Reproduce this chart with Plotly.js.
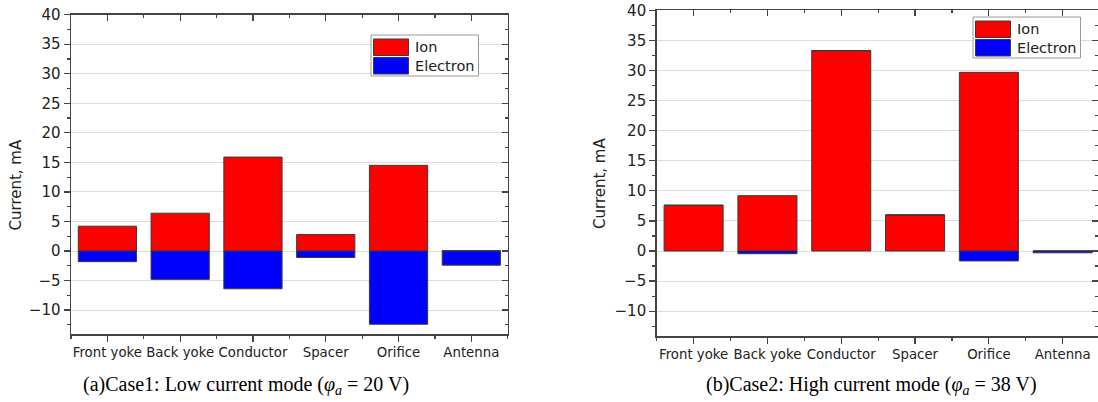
<!DOCTYPE html>
<html>
<head>
<meta charset="utf-8">
<script src="https://cdn.plot.ly/plotly-3.0.1.min.js"></script>
<style>
  html, body { margin: 0; padding: 0; background: #ffffff; }
  #chart { width: 1098px; height: 402px; }
</style>
</head>
<body>
<div id="chart"></div>
<script>
// ---------- data ----------
const categories = ['Front yoke', 'Back yoke', 'Conductor', 'Spacer', 'Orifice', 'Antenna'];
const seriesNames = ['Ion', 'Electron'];
const ionCase1 = [4.2, 6.4, 15.9, 2.8, 14.5, 0.05];
const electronCase1 = [-1.8, -4.8, -6.4, -1.1, -12.4, -2.4];
const ionCase2 = [7.6, 9.2, 33.3, 6.0, 29.7, 0.0];
const electronCase2 = [0.0, -0.45, 0.0, 0.0, -1.65, -0.3];
const yTickVals = [-10, -5, 0, 5, 10, 15, 20, 25, 30, 35, 40];
const yTickText = ['\u221210', '\u22125', '0', '5', '10', '15', '20', '25', '30', '35', '40'];
const yAxisLabel = 'Current, mA';
const captions = [
  '(a)Case1: Low current mode (<i>\u03c6</i><sub><i>a</i></sub> = 20 V)',
  '(b)Case2: High current mode (<i>\u03c6</i><sub><i>a</i></sub> = 38 V)'
];

// ---------- styling ----------
const W = 1098, H = 402;
const px = x => x / W;
const py = y => 1 - y / H;
const colors = ['#ff0000', '#0000ff'];
const barLine = { color: '#3a3a3a', width: 1 };
const axisColor = '#444444';
const tickFontFamily = 'DejaVu Sans, Arial, sans-serif';
const idx = categories.map((c, i) => i);

function barTrace(vals, k, xa, ya) {
  return {
    type: 'bar', x: idx, y: vals, name: seriesNames[k],
    marker: { color: colors[k], line: barLine },
    width: 0.8, xaxis: xa, yaxis: ya, showlegend: false,
    hovertemplate: '%{y}<extra>' + seriesNames[k] + '</extra>'
  };
}
// empty helper traces so that the mirrored frame axes (top / right) are drawn
function frameTrace(xa, ya) {
  return { type: 'scatter', mode: 'markers', x: [null], y: [null], xaxis: xa, yaxis: ya,
           showlegend: false, hoverinfo: 'skip', marker: { opacity: 0 } };
}

const traces = [
  barTrace(ionCase1, 0, 'x', 'y'),
  barTrace(electronCase1, 1, 'x', 'y'),
  barTrace(ionCase2, 0, 'x2', 'y2'),
  barTrace(electronCase2, 1, 'x2', 'y2'),
  frameTrace('x3', 'y3'),
  frameTrace('x4', 'y4')
];

function xAxisBottom(domain, anchor, range) {
  return {
    domain: domain, anchor: anchor, range: range,
    tickmode: 'array', tickvals: idx, ticktext: categories,
    ticks: 'outside', ticklen: 6, tickwidth: 1.2, tickcolor: axisColor,
    minor: { tick0: 0.5, dtick: 1, ticks: 'outside', ticklen: 3, tickwidth: 1.2, tickcolor: axisColor, showgrid: false },
    showline: true, linecolor: axisColor, linewidth: 1.5,
    showgrid: false, zeroline: false,
    tickfont: { family: tickFontFamily, size: 13.3, color: '#222' },
    fixedrange: true
  };
}
function xAxisTop(overlay, anchor, range) {
  return {
    overlaying: overlay, anchor: anchor, side: 'top', range: range,
    tickmode: 'array', tickvals: idx, showticklabels: false,
    ticks: 'inside', ticklen: 6, tickwidth: 1.2, tickcolor: axisColor,
    minor: { tick0: 0.5, dtick: 1, ticks: 'inside', ticklen: 3, tickwidth: 1.2, tickcolor: axisColor, showgrid: false },
    showline: true, linecolor: axisColor, linewidth: 1.5,
    showgrid: false, zeroline: false, fixedrange: true
  };
}
function yAxisLeft(domain, anchor, range) {
  return {
    domain: domain, anchor: anchor, range: range,
    tickmode: 'array', tickvals: yTickVals, ticktext: yTickText,
    ticks: 'outside', ticklen: 6, tickwidth: 1.2, tickcolor: axisColor,
    minor: { tick0: 2.5, dtick: 5, ticks: 'outside', ticklen: 3, tickwidth: 1.2, tickcolor: axisColor, showgrid: false },
    showline: true, linecolor: axisColor, linewidth: 1.5,
    showgrid: true, gridcolor: '#dcdcdc', gridwidth: 1, zeroline: false,
    tickfont: { family: tickFontFamily, size: 15, color: '#222' },
    fixedrange: true
  };
}
function yAxisRight(overlay, anchor, range) {
  return {
    overlaying: overlay, anchor: anchor, side: 'right', range: range,
    tickmode: 'array', tickvals: yTickVals, showticklabels: false,
    ticks: 'inside', ticklen: 6, tickwidth: 1.2, tickcolor: axisColor,
    minor: { tick0: 2.5, dtick: 5, ticks: 'inside', ticklen: 3, tickwidth: 1.2, tickcolor: axisColor, showgrid: false },
    showline: true, linecolor: axisColor, linewidth: 1.5,
    showgrid: false, zeroline: false, fixedrange: true
  };
}

const xr1 = [-0.5, 5.5], yr1 = [-14.05, 40];
const xr2 = [-0.5, 5.478], yr2 = [-14.13, 40];

// legend (drawn in paper space, built from series names/colors)
function legendItems(x0, y0) {
  const shapes = [
    { type: 'rect', xref: 'paper', yref: 'paper', x0: px(x0), x1: px(x0 + 107.5), y0: py(y0), y1: py(y0 + 41),
      line: { color: '#9a9a9a', width: 1 }, fillcolor: '#ffffff', layer: 'above' }
  ];
  const anns = [];
  seriesNames.forEach((n, k) => {
    const top = y0 + 4 + k * 18.5;
    shapes.push({ type: 'rect', xref: 'paper', yref: 'paper', x0: px(x0 + 2.5), x1: px(x0 + 37.5), y0: py(top), y1: py(top + 16.5),
      line: { color: '#3a3a3a', width: 1 }, fillcolor: colors[k], layer: 'above' });
    anns.push({ xref: 'paper', yref: 'paper', x: px(x0 + 42), y: py(top + 8.5), xanchor: 'left', yanchor: 'middle',
      text: n, showarrow: false, font: { family: tickFontFamily, size: 14.5, color: '#222' } });
  });
  return { shapes, anns };
}
const lg1 = legendItems(371, 35);
const lg2 = legendItems(973, 17);

const annotations = [
  { xref: 'paper', yref: 'paper', x: px(15.5), y: py(185), textangle: -90, text: yAxisLabel, showarrow: false,
    xanchor: 'center', yanchor: 'middle', font: { family: tickFontFamily, size: 15, color: '#222' } },
  { xref: 'paper', yref: 'paper', x: px(600), y: py(184), textangle: -90, text: yAxisLabel, showarrow: false,
    xanchor: 'center', yanchor: 'middle', font: { family: tickFontFamily, size: 15, color: '#222' } },
  { xref: 'paper', yref: 'paper', x: px(246), y: py(385), text: captions[0], showarrow: false,
    xanchor: 'center', yanchor: 'middle', font: { family: 'Liberation Serif, Times New Roman, serif', size: 20, color: '#000' } },
  { xref: 'paper', yref: 'paper', x: px(871), y: py(385), text: captions[1], showarrow: false,
    xanchor: 'center', yanchor: 'middle', font: { family: 'Liberation Serif, Times New Roman, serif', size: 20, color: '#000' } }
].concat(lg1.anns, lg2.anns);

const layout = {
  width: W, height: H,
  margin: { l: 0, r: 0, t: 0, b: 0, pad: 0 },
  paper_bgcolor: '#ffffff', plot_bgcolor: '#ffffff',
  barmode: 'relative', bargap: 0.2,
  showlegend: false,
  xaxis: xAxisBottom([px(71), px(507.7)], 'y', xr1),
  yaxis: yAxisLeft([1 - 334 / H, 1 - 14.7 / H], 'x', yr1),
  xaxis3: xAxisTop('x', 'y', xr1),
  yaxis3: yAxisRight('y', 'x', yr1),
  xaxis2: xAxisBottom([px(656.7), 1], 'y2', xr2),
  yaxis2: yAxisLeft([1 - 336 / H, 1 - 10.4 / H], 'x2', yr2),
  xaxis4: xAxisTop('x2', 'y2', xr2),
  yaxis4: yAxisRight('y2', 'x2', yr2),
  shapes: lg1.shapes.concat(lg2.shapes),
  annotations: annotations
};

Plotly.newPlot('chart', traces, layout, { displayModeBar: false, staticPlot: true });
</script>
</body>
</html>
